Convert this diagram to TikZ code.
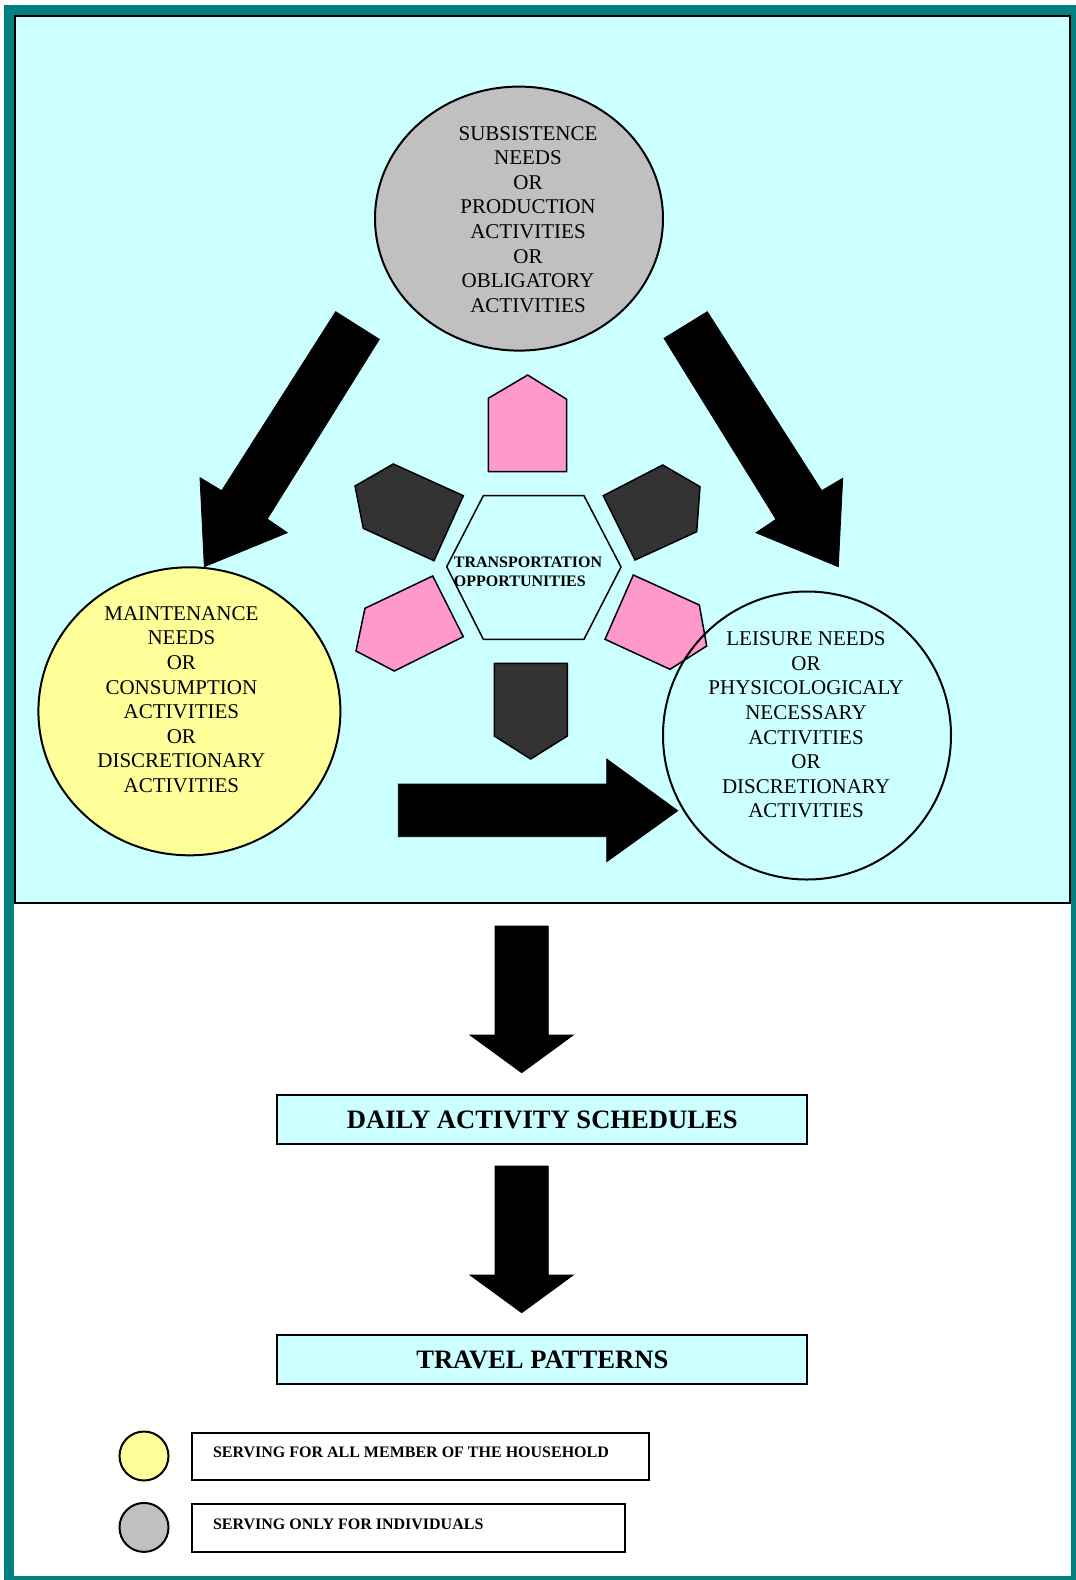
\documentclass[tikz,border=0pt]{standalone}
\usepackage{fontspec}
\setmainfont{Liberation Serif}
\usetikzlibrary{shapes.geometric}
\definecolor{panelcyan}{RGB}{204,255,255}
\definecolor{frameteal}{RGB}{0,128,128}
\definecolor{piecepink}{RGB}{255,153,204}
\definecolor{piecedark}{RGB}{51,51,51}
\definecolor{needgray}{RGB}{192,192,192}
\definecolor{needyellow}{RGB}{255,255,153}
\tikzset{
  need/.style={draw, ellipse, line width=1pt, inner sep=0pt},
  needtext/.style={align=center, inner sep=0pt, font=\fontsize{10.5}{12.3}\selectfont},
  piece/.style={draw, line width=0.75pt, line join=miter},
  blockarrow/.style={fill=black, draw=black, line width=0.4pt},
  result/.style={draw, fill=panelcyan, line width=1pt, minimum width=265pt, minimum height=24.5pt, inner sep=0pt, font=\bfseries\fontsize{13.3}{16}\selectfont},
  keybox/.style={draw, line width=1pt, minimum height=23.7pt, inner sep=0pt, anchor=north west},
  keytext/.style={anchor=west, inner sep=0pt, font=\bfseries\fontsize{8}{10}\selectfont},
  keydot/.style={draw, circle, line width=1pt, minimum size=24.5pt, inner sep=0pt}
}
\begin{document}
\begin{tikzpicture}[x=0.5pt, y=-0.5pt]
\useasboundingbox (0,0) rectangle (1076,1580);
\fill[white] (0,0) rectangle (1076,1580);
\draw[frameteal, line width=5pt] (9,10) rectangle (1076,1581);
\draw[fill=panelcyan, line width=1pt] (14.5,15.5) rectangle (1070,903);

% needs
\node[need, fill=needgray, minimum width=144pt, minimum height=132pt] (subsist) at (519,218.6) {};
\node[needtext] (subsisttext) at (528,219.5) {SUBSISTENCE\\NEEDS\\OR\\PRODUCTION\\ACTIVITIES\\OR\\OBLIGATORY\\ACTIVITIES};
\node[need, fill=needyellow, minimum width=151pt, minimum height=144pt] (maint) at (189.4,711.3) {};
\node[needtext] (mainttext) at (181.4,699.5) {MAINTENANCE\\NEEDS\\OR\\CONSUMPTION\\ACTIVITIES\\OR\\DISCRETIONARY\\ACTIVITIES};

% arrows between needs
\draw[blockarrow] (335.7,311.7) -- (379.3,339.3) -- (267.3,519) -- (287.3,532.7) -- (204.3,566.7) -- (200,477.7) -- (221.7,490.7) -- cycle;
\draw[blockarrow] (707.3,311.7) -- (664,338.3) -- (776,519.3) -- (756,532.7) -- (838.3,566.7) -- (842.7,478.3) -- (821.7,490.7) -- cycle;
\draw[blockarrow] (398.3,784) -- (606.7,784) -- (606.7,759) -- (677.7,810.7) -- (606.7,861.7) -- (606.7,836.7) -- (398.3,836.7) -- cycle;

% transportation
\draw[piece] (446.7,566.7) -- (483.3,495.7) -- (584,495.7) -- (621,567) -- (584,639.3) -- (483.3,639.3) -- cycle;
\node[anchor=west, align=left, inner sep=0pt, font=\bfseries\fontsize{8}{9.3}\selectfont] (transport) at (453.5,571.5) {TRANSPORTATION\\OPPORTUNITIES};
\draw[piece, fill=piecepink] (488.3,398.3) -- (527.7,375) -- (566.7,399.3) -- (566.7,471.7) -- (488.3,471.7) -- cycle;
\draw[piece, fill=piecedark] (355,486) -- (393.3,464) -- (463.3,495.7) -- (434,560.7) -- (363.3,528.3) -- cycle;
\draw[piece, fill=piecedark] (603.3,495.7) -- (662.7,465) -- (700,486.7) -- (696.7,531.7) -- (635,560) -- cycle;
\draw[piece, fill=piecepink] (432.7,576) -- (463.3,636.7) -- (394.3,671) -- (356,651) -- (365,608.3) -- cycle;
\draw[piece, fill=piecepink] (633.3,575) -- (699.3,605) -- (706.7,646) -- (670,669.3) -- (605,639.3) -- cycle;
\draw[piece, fill=piecedark] (494.3,663.3) -- (567.3,663.3) -- (567.3,736) -- (530.7,759) -- (494.3,736) -- cycle;

\node[need, minimum size=144pt] (leisure) at (807,735.5) {};
\node[needtext] (leisuretext) at (806,725) {LEISURE NEEDS\\OR\\PHYSICOLOGICALY\\NECESSARY\\ACTIVITIES\\OR\\DISCRETIONARY\\ACTIVITIES};

% results
\foreach \dy in {0,240} {
  \draw[blockarrow, yshift=-\dy*0.5pt] (495,926) -- (548.3,926) -- (548.3,1035) -- (573.3,1035) -- (521.7,1072.7) -- (470,1035) -- (495,1035) -- cycle;
}
\node[result] (daily) at (542.3,1119.5) {DAILY ACTIVITY SCHEDULES};
\node[result] (travel) at (542.3,1359.5) {TRAVEL PATTERNS};

% key
\node[keydot, fill=needyellow] (keyyellow) at (144,1456) {};
\node[keydot, fill=needgray] (keygray) at (144,1527.4) {};
\node[keybox, minimum width=228.2pt] (keyall) at (191.4,1431.7) {};
\node[keybox, minimum width=216.1pt] (keyone) at (191.4,1503.2) {};
\node[keytext] (keyalltext) at (212.6,1452.5) {SERVING FOR ALL MEMBER OF THE HOUSEHOLD};
\node[keytext] (keyonetext) at (212.6,1524) {SERVING ONLY FOR INDIVIDUALS};
\end{tikzpicture}
\end{document}
